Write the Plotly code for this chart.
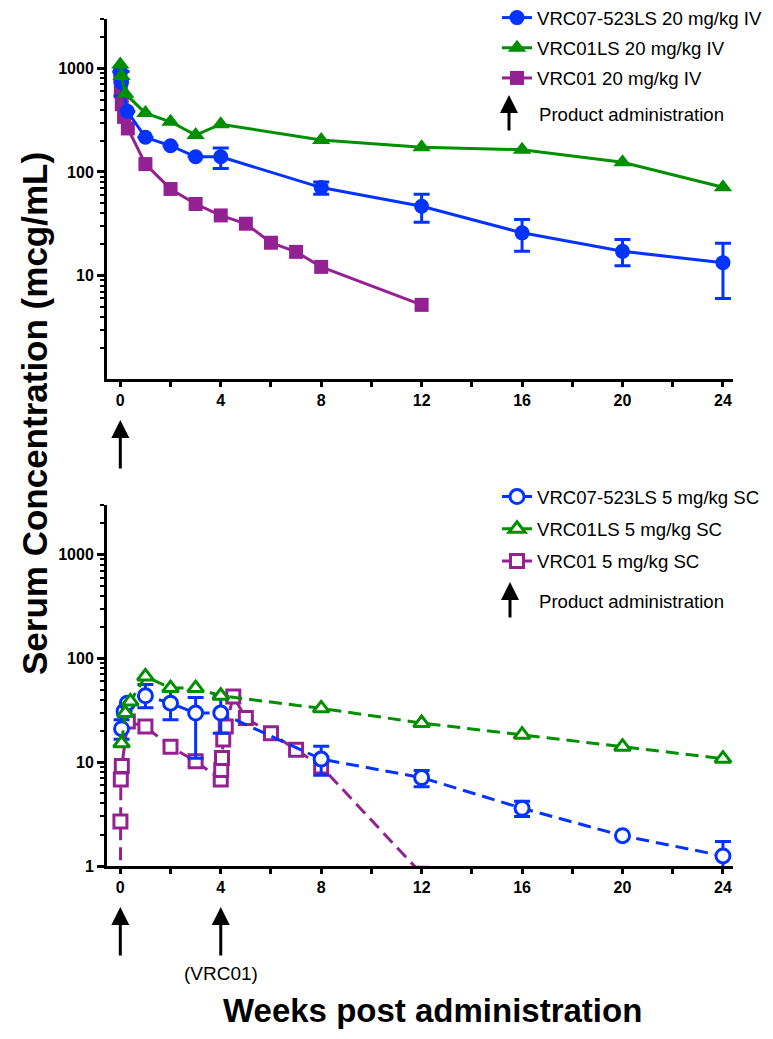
import plotly.graph_objects as go

# ---------------- data (weeks, mcg/mL) ----------------
# Top panel: 20 mg/kg IV
iv_vrc07_x = [0, 0.05, 0.28, 1, 2, 3, 4, 8, 12, 16, 20, 24]
iv_vrc07_y = [930, 730, 385, 216, 179, 140, 140, 70.6, 46.6, 25.8, 17.1, 13.3]
iv_vrc07_hi = [930, 935, 385, 216, 179, 140, 170, 80, 61, 34.8, 22.3, 20.5]
iv_vrc07_lo = [930, 540, 385, 216, 179, 140, 108, 61, 32.6, 17.1, 12.4, 6.0]

iv_vrc01ls_x = [0, 0.05, 0.2, 1, 2, 3, 4, 8, 12, 16, 20, 24]
iv_vrc01ls_y = [1090, 845, 570, 370, 305, 227, 289, 203, 173, 164, 124, 71]

iv_vrc01_x = [0, 0.02, 0.06, 0.15, 0.3, 1, 2, 3, 4, 5, 6, 7, 8, 12]
iv_vrc01_y = [820, 600, 450, 340, 263, 119, 68.5, 49, 38, 31.6, 20.7, 16.9, 12.1, 5.2]

# Bottom panel: 5 mg/kg SC
sc_vrc07_x = [0.05, 0.15, 0.28, 1, 2, 3, 4, 8, 12, 16, 20, 24]
sc_vrc07_y = [21, 31, 37, 43.6, 37, 29.7, 29.7, 10.7, 7.1, 3.6, 1.96, 1.25]
sc_vrc07_hi = [25.6, 31, 37, 56, 48, 42, 43, 14.2, 8.3, 4.2, 1.96, 1.72]
sc_vrc07_lo = [16.6, 31, 37, 33.5, 25.6, 10.9, 19, 7.5, 5.8, 3.0, 1.96, 0.8]

sc_vrc01ls_x = [0.05, 0.2, 0.4, 1, 2, 3, 4, 8, 12, 16, 20, 24]
sc_vrc01ls_y = [15.2, 29.7, 38.5, 67, 51.7, 51.7, 43.6, 33, 23.8, 18.4, 14.1, 10.8]

sc_vrc01_x = [0, 0.005, 0.02, 0.06, 0.3, 1, 2, 3, 4, 4.02, 4.05, 4.1, 4.2, 4.5, 5, 6, 7, 8, 12]
sc_vrc01_y = [0.3, 2.68, 6.8, 9.2, 24.6, 22, 14.1, 10.2, 6.8, 8.4, 11, 16.5, 22, 43, 26.6, 19, 13.2, 9.1, 0.84]

x_ticks = [0, 4, 8, 12, 16, 20, 24]
x_minor = [2, 6, 10, 14, 18, 22]
dose_weeks_top = [0]
dose_weeks_bottom = [0, 4]

BLUE = "#0433FF"
GREEN = "#008F00"
PURPLE = "#942192"
FONT = "Arial, Liberation Sans, sans-serif"

# The page body has an 8px margin; figure is sized to fit inside it.
OFF = 8
W, H = 773 - 2 * OFF, 1039 - 2 * OFF
L = 107 - OFF
T = 19 - OFF
R = W - (733 - OFF)
B = H - (866 - OFF)
PW, PH = W - L - R, H - T - B


def px_x(px):
    """page pixel x -> paper x"""
    return (px - OFF - L) / PW


def px_y(py):
    """page pixel y -> paper y"""
    return (H - B - (py - OFF)) / PH


def diff(a, b):
    return [max(x - y, 0) for x, y in zip(a, b)]


fig = go.Figure()

# ---- top panel (IV) ----
fig.add_trace(go.Scatter(
    x=iv_vrc01_x, y=iv_vrc01_y, name="VRC01 20 mg/kg IV", mode="lines+markers",
    line=dict(color=PURPLE, width=3), marker=dict(symbol="square", size=14, color=PURPLE),
    xaxis="x", yaxis="y", legend="legend", legendrank=3, legendgroup="a3"))
fig.add_trace(go.Scatter(
    x=iv_vrc07_x, y=iv_vrc07_y, name="VRC07-523LS 20 mg/kg IV", mode="lines+markers",
    line=dict(color=BLUE, width=3), marker=dict(symbol="circle", size=15, color=BLUE),
    error_y=dict(type="data", symmetric=False, array=diff(iv_vrc07_hi, iv_vrc07_y),
                 arrayminus=diff(iv_vrc07_y, iv_vrc07_lo), color=BLUE, thickness=3, width=8),
    xaxis="x", yaxis="y", legend="legend", legendrank=1, legendgroup="a1"))
fig.add_trace(go.Scatter(
    x=iv_vrc01ls_x, y=iv_vrc01ls_y, name="VRC01LS 20 mg/kg IV", mode="lines+markers",
    line=dict(color=GREEN, width=3), marker=dict(symbol="triangle-up", size=16, color=GREEN),
    xaxis="x", yaxis="y", legend="legend", legendrank=2, legendgroup="a2"))

# ---- bottom panel (SC) ----
DASH = "13px,7px"
fig.add_trace(go.Scatter(
    x=sc_vrc01_x, y=sc_vrc01_y, name="VRC01 5 mg/kg SC", mode="lines+markers",
    line=dict(color=PURPLE, width=3, dash=DASH),
    marker=dict(symbol="square", size=13, color="white", line=dict(color=PURPLE, width=3)),
    xaxis="x2", yaxis="y2", legend="legend2", legendrank=3, legendgroup="b3"))
fig.add_trace(go.Scatter(
    x=sc_vrc07_x, y=sc_vrc07_y, name="VRC07-523LS 5 mg/kg SC", mode="lines+markers",
    line=dict(color=BLUE, width=3, dash=DASH),
    marker=dict(symbol="circle", size=14, color="white", line=dict(color=BLUE, width=3)),
    error_y=dict(type="data", symmetric=False, array=diff(sc_vrc07_hi, sc_vrc07_y),
                 arrayminus=diff(sc_vrc07_y, sc_vrc07_lo), color=BLUE, thickness=3, width=8),
    xaxis="x2", yaxis="y2", legend="legend2", legendrank=1, legendgroup="b1"))
fig.add_trace(go.Scatter(
    x=sc_vrc01ls_x, y=sc_vrc01ls_y, name="VRC01LS 5 mg/kg SC", mode="lines+markers",
    line=dict(color=GREEN, width=3, dash=DASH),
    marker=dict(symbol="triangle-up", size=14, color="white", line=dict(color=GREEN, width=3)),
    xaxis="x2", yaxis="y2", legend="legend2", legendrank=2, legendgroup="b2"))

minor_y = [m * 10 ** e for e in range(0, 4) for m in range(2, 10)]
minor_y = [v for v in minor_y if v <= 3000]

xaxis_common = dict(
    range=[-0.53, 24.4], showline=True, linewidth=3, linecolor="black", mirror=False,
    ticks="outside", ticklen=5, tickwidth=2.5, tickcolor="black",
    tickvals=x_ticks, ticktext=[str(v) for v in x_ticks],
    tickfont=dict(family=FONT, size=16, color="black", weight="bold"),
    minor=dict(tickvals=x_minor, ticks="outside", ticklen=5, tickwidth=2.5, tickcolor="black"),
    showgrid=False, zeroline=False, domain=[0, 1])

yaxis_common = dict(
    type="log", range=[0, 3.477], showline=True, linewidth=3, linecolor="black",
    ticks="outside", ticklen=7, tickwidth=2.5, tickcolor="black",
    tickfont=dict(family=FONT, size=16, color="black", weight="bold"),
    minor=dict(tickvals=minor_y, ticks="outside", ticklen=4, tickwidth=2, tickcolor="black"),
    showgrid=False, zeroline=False)

legend_common = dict(
    font=dict(family=FONT, size=18.6, color="black"), bgcolor="rgba(0,0,0,0)",
    traceorder="grouped", tracegroupgap=4, xanchor="left", yanchor="top",
    itemsizing="trace", borderwidth=0)

fig.update_layout(
    width=W, height=H, margin=dict(l=L, r=R, t=T, b=B, autoexpand=False),
    paper_bgcolor="white", plot_bgcolor="white",
    font=dict(family=FONT, color="black"),
    xaxis=dict(xaxis_common, anchor="y"),
    yaxis=dict(yaxis_common, domain=[px_y(379), 1.0], anchor="x",
               tickvals=[10, 100, 1000], ticktext=["10", "100", "1000"]),
    xaxis2=dict(xaxis_common, anchor="y2"),
    yaxis2=dict(yaxis_common, domain=[0, px_y(505)], anchor="x2",
                tickvals=[1, 10, 100, 1000], ticktext=["1", "10", "100", "1000"]),
    legend=dict(legend_common, x=px_x(497), y=px_y(-1), tracegroupgap=3),
    legend2=dict(legend_common, x=px_x(497), y=px_y(478), tracegroupgap=5),
    showlegend=True,
)

ann = []
arrow_style = dict(showarrow=True, arrowhead=2, arrowsize=1.2, arrowwidth=3,
                   arrowcolor="black", ax=0, text="", standoff=0)
# dose arrows below the axes
for w in dose_weeks_top:
    ann.append(dict(arrow_style, x=w, xref="x", y=px_y(420), yref="paper", ay=50))
for w in dose_weeks_bottom:
    ann.append(dict(arrow_style, x=w, xref="x2", y=px_y(907), yref="paper", ay=50))
ann.append(dict(text="(VRC01)", x=4, xref="x2", y=px_y(973), yref="paper", showarrow=False,
                font=dict(family=FONT, size=19, color="black"), xanchor="center", yanchor="middle"))
# legend "Product administration" entries
for ax_y, tx_y, ax_x in [(95, 115, 509), (582, 601, 510)]:
    ann.append(dict(arrow_style, x=px_x(ax_x), xref="paper", y=px_y(ax_y), yref="paper", ay=37))
    ann.append(dict(text="Product administration", x=px_x(537), xref="paper", y=px_y(tx_y),
                    yref="paper", showarrow=False, xanchor="left", yanchor="middle",
                    font=dict(family=FONT, size=18.6, color="black")))
# axis titles
ann.append(dict(text="Serum Concentration (mcg/mL)", x=px_x(35), xref="paper", y=px_y(414),
                yref="paper", showarrow=False, textangle=-90, xanchor="center", yanchor="middle",
                font=dict(family=FONT, size=35, color="black", weight="bold")))
ann.append(dict(text="Weeks post administration", x=px_x(432), xref="paper", y=px_y(1011),
                yref="paper", showarrow=False, xanchor="center", yanchor="middle",
                font=dict(family=FONT, size=33, color="black", weight="bold")))
fig.update_layout(annotations=ann)

fig.write_html("out.html")
